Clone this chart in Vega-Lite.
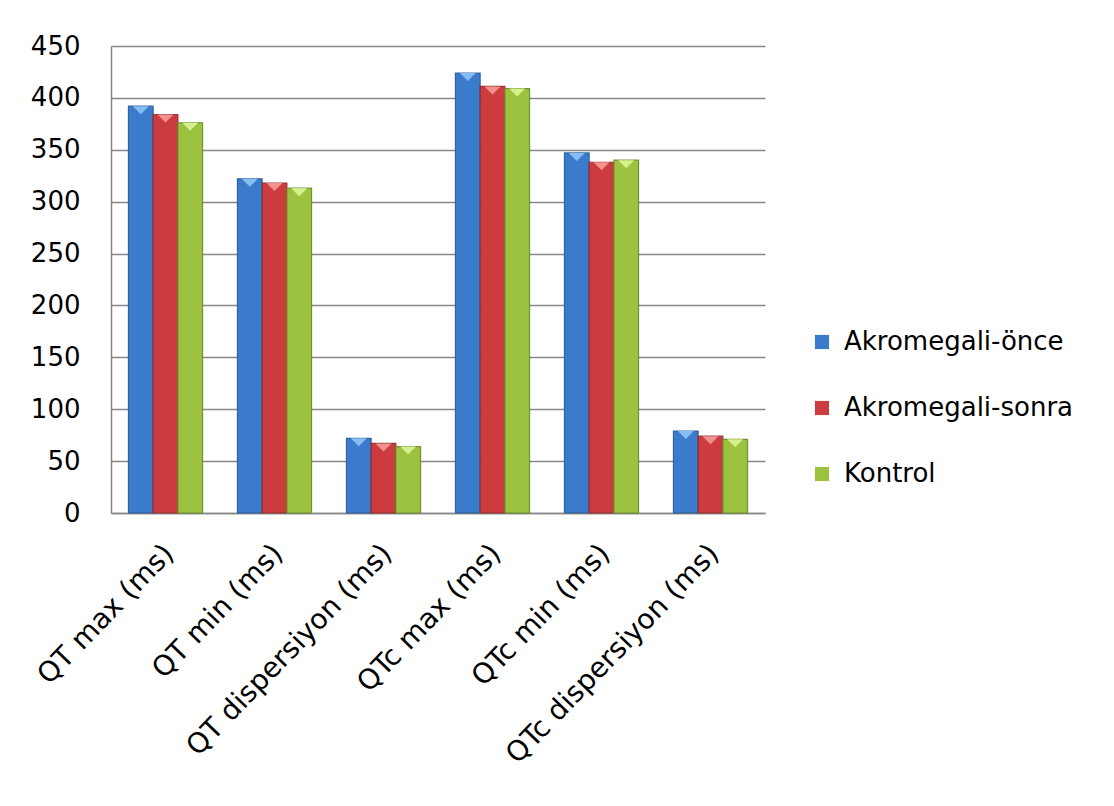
{
  "$schema": "https://vega.github.io/schema/vega-lite/v6.json",
  "autosize": {"type": "none"},
  "padding": {"left": 111, "top": 46, "right": 349, "bottom": 293},
  "width": 654,
  "height": 467,
  "background": "white",
  "config": {
    "font": "DejaVu Sans",
    "view": {"stroke": null},
    "axis": {"labelFont": "DejaVu Sans", "labelColor": "#000000", "labelFontSize": 26, "titleFont": "DejaVu Sans"},
    "legend": {"labelFont": "DejaVu Sans"}
  },
  "data": {
    "values": [
      {"param": "QT max (ms)", "group": "Akromegali-önce", "value": 392},
      {"param": "QT max (ms)", "group": "Akromegali-sonra", "value": 384},
      {"param": "QT max (ms)", "group": "Kontrol", "value": 376},
      {"param": "QT min (ms)", "group": "Akromegali-önce", "value": 322},
      {"param": "QT min (ms)", "group": "Akromegali-sonra", "value": 318},
      {"param": "QT min (ms)", "group": "Kontrol", "value": 313},
      {"param": "QT dispersiyon (ms)", "group": "Akromegali-önce", "value": 72},
      {"param": "QT dispersiyon (ms)", "group": "Akromegali-sonra", "value": 67},
      {"param": "QT dispersiyon (ms)", "group": "Kontrol", "value": 64},
      {"param": "QTc max (ms)", "group": "Akromegali-önce", "value": 424},
      {"param": "QTc max (ms)", "group": "Akromegali-sonra", "value": 411},
      {"param": "QTc max (ms)", "group": "Kontrol", "value": 409},
      {"param": "QTc min (ms)", "group": "Akromegali-önce", "value": 347},
      {"param": "QTc min (ms)", "group": "Akromegali-sonra", "value": 338},
      {"param": "QTc min (ms)", "group": "Kontrol", "value": 340},
      {"param": "QTc dispersiyon (ms)", "group": "Akromegali-önce", "value": 79},
      {"param": "QTc dispersiyon (ms)", "group": "Akromegali-sonra", "value": 74},
      {"param": "QTc dispersiyon (ms)", "group": "Kontrol", "value": 71}
    ]
  },
  "encoding": {
    "x": {
      "field": "param",
      "type": "nominal",
      "sort": null,
      "scale": {"paddingInner": 0.32, "paddingOuter": 0.16},
      "axis": {
        "title": null,
        "labelAngle": -46,
        "labelAlign": "right",
        "labelBaseline": "middle",
        "labelFontSize": 28,
        "labelPadding": 36,
        "labelOffset": 4,
        "ticks": false,
        "domainColor": "#868686",
        "domainWidth": 1.5,
        "labelLimit": 400
      }
    },
    "xOffset": {
      "field": "group",
      "type": "nominal",
      "sort": ["Akromegali-önce", "Akromegali-sonra", "Kontrol"]
    },
    "y": {
      "field": "value",
      "type": "quantitative",
      "scale": {"domain": [0, 450], "nice": false},
      "axis": {
        "title": null,
        "values": [0, 50, 100, 150, 200, 250, 300, 350, 400, 450],
        "ticks": false,
        "labelPadding": 31,
        "gridColor": "#868686",
        "gridWidth": 1.5,
        "domainColor": "#868686",
        "domainWidth": 1.5
      }
    }
  },
  "layer": [
    {
      "mark": {"type": "bar", "strokeWidth": 1.2, "strokeOpacity": 0.9},
      "encoding": {
        "color": {
          "field": "group",
          "type": "nominal",
          "sort": ["Akromegali-önce", "Akromegali-sonra", "Kontrol"],
          "scale": {
            "domain": ["Akromegali-önce", "Akromegali-sonra", "Kontrol"],
            "range": ["#3b7bcb", "#cc3b3d", "#9cc23f"]
          },
          "legend": {
            "title": null,
            "orient": "none",
            "legendX": 698,
            "legendY": 283,
            "symbolType": "square",
            "symbolSize": 200,
            "symbolStrokeWidth": 0,
            "labelFontSize": 26,
            "labelOffset": 9,
            "rowPadding": 40,
            "labelLimit": 400
          }
        },
        "stroke": {
          "field": "group",
          "type": "nominal",
          "scale": {
            "domain": ["Akromegali-önce", "Akromegali-sonra", "Kontrol"],
            "range": ["#2a5a96", "#8f2a2b", "#6a8a2a"]
          },
          "legend": null
        }
      }
    },
    {
      "mark": {"type": "point", "shape": "M-1,0L1,0L0,1Z", "size": 256, "filled": true, "opacity": 1},
      "encoding": {
        "color": {
          "field": "group",
          "type": "nominal",
          "scale": {
            "domain": ["Akromegali-önce", "Akromegali-sonra", "Kontrol"],
            "range": ["#3b7bcb", "#cc3b3d", "#9cc23f"]
          },
          "legend": null
        },
        "fill": {
          "field": "group",
          "type": "nominal",
          "scale": {
            "domain": ["Akromegali-önce", "Akromegali-sonra", "Kontrol"],
            "range": ["#86bdf2", "#f29090", "#d6f08e"]
          },
          "legend": null
        }
      }
    }
  ],
  "resolve": {"scale": {"color": "independent"}}
}
